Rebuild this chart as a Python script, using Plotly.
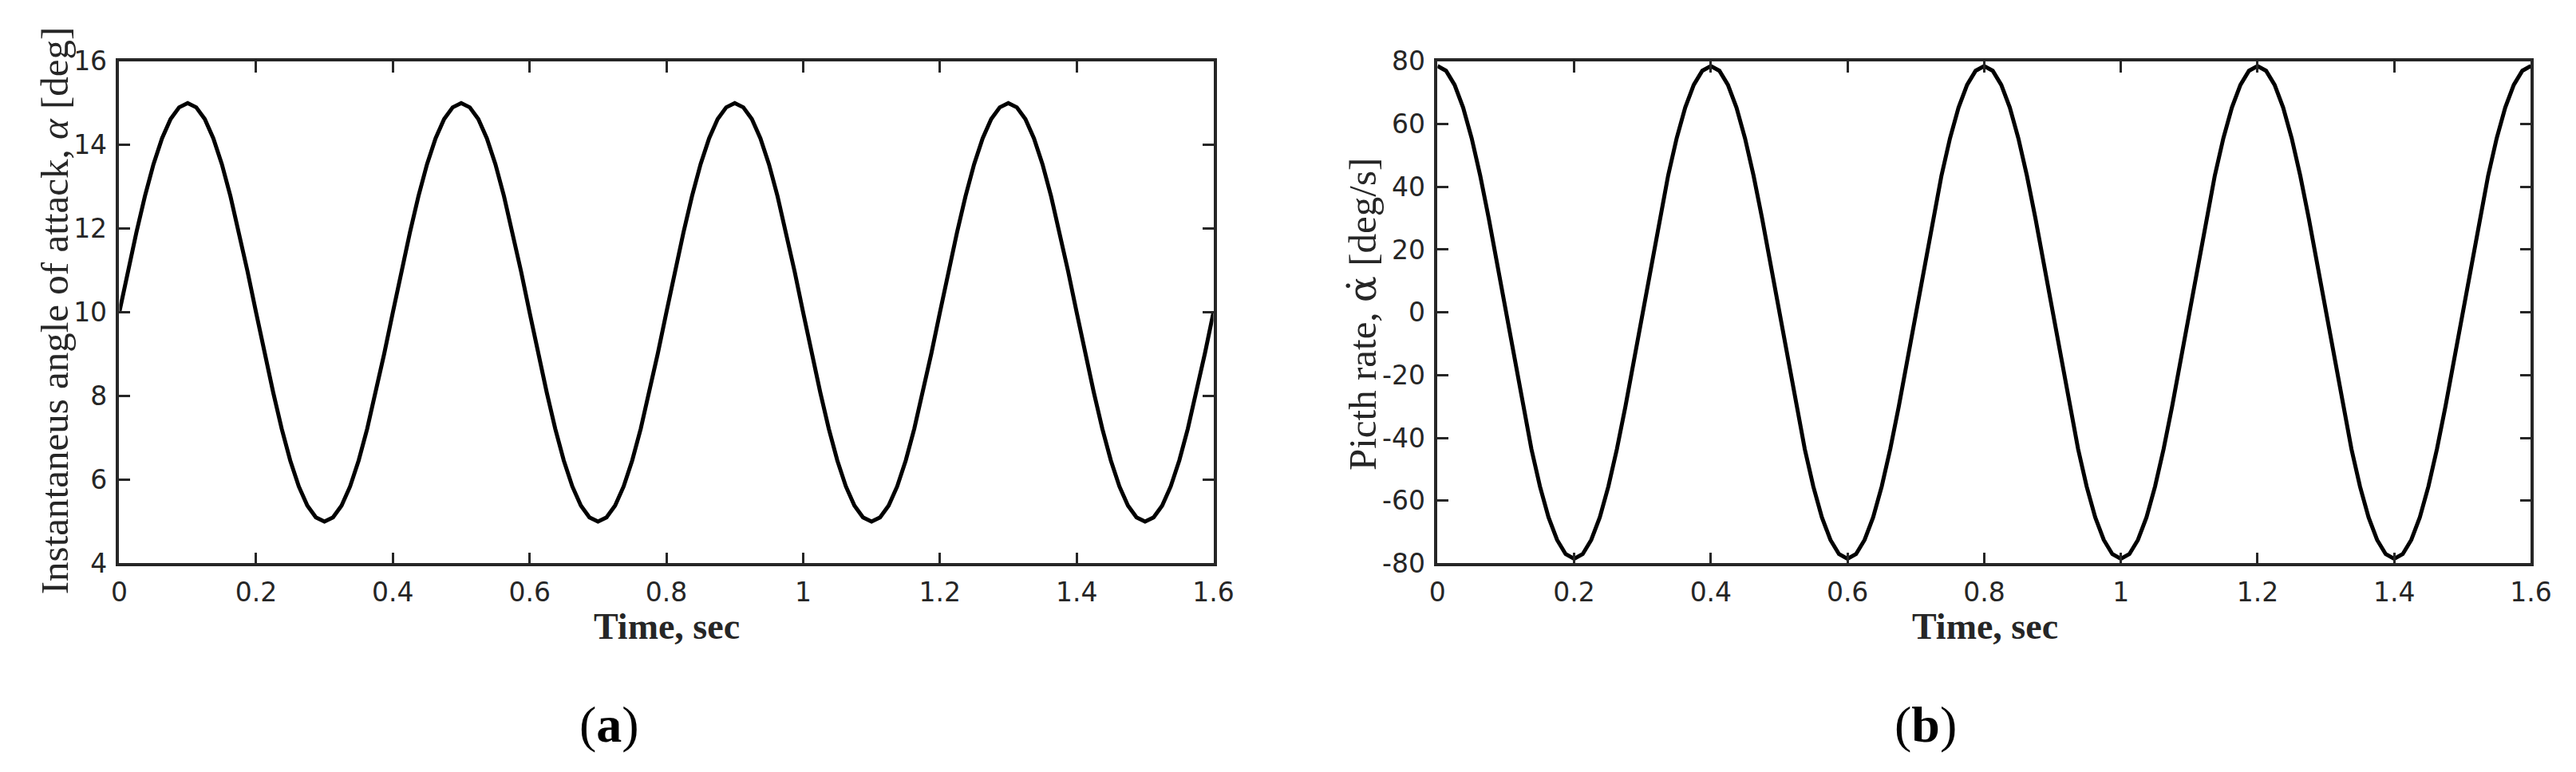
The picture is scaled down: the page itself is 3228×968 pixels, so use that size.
import plotly.graph_objects as go

time_s = [
    0.0, 0.0125, 0.025, 0.0375, 0.05, 0.0625, 0.075, 0.0875, 0.1, 0.1125, 0.125, 0.1375, 0.15, 0.1625, 0.175, 0.1875,
    0.2, 0.2125, 0.225, 0.2375, 0.25, 0.2625, 0.275, 0.2875, 0.3, 0.3125, 0.325, 0.3375, 0.35, 0.3625, 0.375, 0.3875,
    0.4, 0.4125, 0.425, 0.4375, 0.45, 0.4625, 0.475, 0.4875, 0.5, 0.5125, 0.525, 0.5375, 0.55, 0.5625, 0.575, 0.5875,
    0.6, 0.6125, 0.625, 0.6375, 0.65, 0.6625, 0.675, 0.6875, 0.7, 0.7125, 0.725, 0.7375, 0.75, 0.7625, 0.775, 0.7875,
    0.8, 0.8125, 0.825, 0.8375, 0.85, 0.8625, 0.875, 0.8875, 0.9, 0.9125, 0.925, 0.9375, 0.95, 0.9625, 0.975, 0.9875,
    1.0, 1.0125, 1.025, 1.0375, 1.05, 1.0625, 1.075, 1.0875, 1.1, 1.1125, 1.125, 1.1375, 1.15, 1.1625, 1.175, 1.1875,
    1.2, 1.2125, 1.225, 1.2375, 1.25, 1.2625, 1.275, 1.2875, 1.3, 1.3125, 1.325, 1.3375, 1.35, 1.3625, 1.375, 1.3875,
    1.4, 1.4125, 1.425, 1.4375, 1.45, 1.4625, 1.475, 1.4875, 1.5, 1.5125, 1.525, 1.5375, 1.55, 1.5625, 1.575, 1.5875,
    1.6,
]
alpha_deg = [
    10.0, 10.98, 11.91, 12.78, 13.54, 14.16, 14.62, 14.9, 15.0, 14.9, 14.62, 14.16, 13.54, 12.78, 11.91, 10.98,
    10.0, 9.02, 8.09, 7.22, 6.46, 5.84, 5.38, 5.1, 5.0, 5.1, 5.38, 5.84, 6.46, 7.22, 8.09, 9.02,
    10.0, 10.98, 11.91, 12.78, 13.54, 14.16, 14.62, 14.9, 15.0, 14.9, 14.62, 14.16, 13.54, 12.78, 11.91, 10.98,
    10.0, 9.02, 8.09, 7.22, 6.46, 5.84, 5.38, 5.1, 5.0, 5.1, 5.38, 5.84, 6.46, 7.22, 8.09, 9.02,
    10.0, 10.98, 11.91, 12.78, 13.54, 14.16, 14.62, 14.9, 15.0, 14.9, 14.62, 14.16, 13.54, 12.78, 11.91, 10.98,
    10.0, 9.02, 8.09, 7.22, 6.46, 5.84, 5.38, 5.1, 5.0, 5.1, 5.38, 5.84, 6.46, 7.22, 8.09, 9.02,
    10.0, 10.98, 11.91, 12.78, 13.54, 14.16, 14.62, 14.9, 15.0, 14.9, 14.62, 14.16, 13.54, 12.78, 11.91, 10.98,
    10.0, 9.02, 8.09, 7.22, 6.46, 5.84, 5.38, 5.1, 5.0, 5.1, 5.38, 5.84, 6.46, 7.22, 8.09, 9.02,
    10.0,
]
pitch_rate = [
    78.5, 77.0, 72.5, 65.3, 55.5, 43.6, 30.0, 15.3, 0.0, -15.3, -30.0, -43.6, -55.5, -65.3, -72.5, -77.0,
    -78.5, -77.0, -72.5, -65.3, -55.5, -43.6, -30.0, -15.3, 0.0, 15.3, 30.0, 43.6, 55.5, 65.3, 72.5, 77.0,
    78.5, 77.0, 72.5, 65.3, 55.5, 43.6, 30.0, 15.3, 0.0, -15.3, -30.0, -43.6, -55.5, -65.3, -72.5, -77.0,
    -78.5, -77.0, -72.5, -65.3, -55.5, -43.6, -30.0, -15.3, 0.0, 15.3, 30.0, 43.6, 55.5, 65.3, 72.5, 77.0,
    78.5, 77.0, 72.5, 65.3, 55.5, 43.6, 30.0, 15.3, 0.0, -15.3, -30.0, -43.6, -55.5, -65.3, -72.5, -77.0,
    -78.5, -77.0, -72.5, -65.3, -55.5, -43.6, -30.0, -15.3, 0.0, 15.3, 30.0, 43.6, 55.5, 65.3, 72.5, 77.0,
    78.5, 77.0, 72.5, 65.3, 55.5, 43.6, 30.0, 15.3, 0.0, -15.3, -30.0, -43.6, -55.5, -65.3, -72.5, -77.0,
    -78.5, -77.0, -72.5, -65.3, -55.5, -43.6, -30.0, -15.3, 0.0, 15.3, 30.0, 43.6, 55.5, 65.3, 72.5, 77.0,
    78.5,
]

# tick labels (MATLAB style, plain hyphen minus)
rate_ticks = [-80, -60, -40, -20, 0, 20, 40, 60, 80]
rate_ticktext = ["-80", "-60", "-40", "-20", "0", "20", "40", "60", "80"]

W, H = 3228, 968
AX_COLOR = "#262626"
SERIF = "Liberation Serif"
SANS = "DejaVu Sans"


def px(x):
    return x / W


def py(y):
    return 1 - y / H


fig = go.Figure()
fig.add_trace(go.Scatter(x=time_s, y=alpha_deg, mode="lines",
                         line=dict(color="black", width=5), xaxis="x", yaxis="y"))
fig.add_trace(go.Scatter(x=time_s, y=pitch_rate, mode="lines",
                         line=dict(color="black", width=5), xaxis="x2", yaxis="y2"))

axis_style = dict(
    showgrid=False, zeroline=False, showline=True, mirror="ticks",
    linecolor=AX_COLOR, linewidth=3.5,
    ticks="inside", ticklen=14, tickwidth=3, tickcolor=AX_COLOR,
    tickfont=dict(family=SANS, size=33, color=AX_COLOR),
)

fig.update_layout(
    width=W, height=H,
    margin=dict(l=0, r=0, t=0, b=0),
    paper_bgcolor="white", plot_bgcolor="white",
    showlegend=False,
    xaxis=dict(domain=[px(132), px(1519)], range=[0, 1.6], dtick=0.2, tick0=0,
               anchor="y", ticklabelstandoff=4, **axis_style),
    yaxis=dict(domain=[py(708), py(52)], range=[4, 16], dtick=2, tick0=4,
               anchor="x", ticklabelstandoff=5, **axis_style),
    xaxis2=dict(domain=[px(1803), px(3189)], range=[0, 1.6], dtick=0.2, tick0=0,
                anchor="y2", ticklabelstandoff=4, **axis_style),
    yaxis2=dict(domain=[py(708), py(52)], range=[-80, 80],
                tickvals=rate_ticks, ticktext=rate_ticktext,
                anchor="x2", ticklabelstandoff=5, **axis_style),
)

label_font = dict(family=SERIF, size=49, color=AX_COLOR)
xt_font = dict(family=SERIF, size=46, color=AX_COLOR)
cap_font = dict(family=SERIF, size=64, color="black")


def note(text, x, y, font, angle=0):
    fig.add_annotation(text=text, textangle=angle, x=px(x), y=py(y),
                       xref="paper", yref="paper", xanchor="center", yanchor="middle",
                       showarrow=False, font=font)


note("Instantaneus angle of attack, <i>α</i> [deg]", 50, 378, label_font, -90)
note("Picth rate, <span style=\"font-family:'DejaVu Serif'\">α̇</span> [deg/s]",
     1708, 382, label_font, -90)
note("<b>Time, sec</b>", 826, 790, xt_font)
note("<b>Time, sec</b>", 2497, 790, xt_font)
note("(<b>a</b>)", 753, 918, cap_font)
note("(<b>b</b>)", 2422, 918, cap_font)

fig.write_html("out.html")
